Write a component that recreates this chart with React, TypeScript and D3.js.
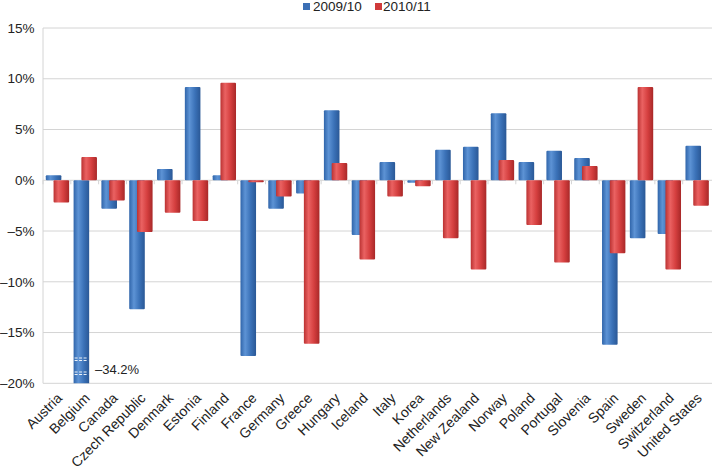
import { useEffect, useRef } from "react";
import * as d3 from "d3";

const COUNTRIES = [
  "Austria", "Belgium", "Canada", "Czech Republic", "Denmark", "Estonia", "Finland", "France",
  "Germany", "Greece", "Hungary", "Iceland", "Italy", "Korea", "Netherlands", "New Zealand",
  "Norway", "Poland", "Portugal", "Slovenia", "Spain", "Sweden", "Switzerland", "United States",
];
const Y2009 = [0.5, -34.2, -2.8, -12.7, 1.1, 9.2, 0.5, -17.3, -2.8, -1.3, 6.9, -5.4, 1.8, -0.25, 3.0, 3.3, 6.6, 1.8, 2.9, 2.2, -16.2, -5.7, -5.3, 3.4];
const Y2010 = [-2.2, 2.3, -2.0, -5.1, -3.2, -4.0, 9.6, -0.2, -1.6, -16.1, 1.7, -7.8, -1.6, -0.6, -5.7, -8.8, 2.0, -4.4, -8.1, 1.4, -7.2, 9.2, -8.8, -2.5];
const SERIES = [
  { name: "2009/10", values: Y2009, id: "gBlue", stops: ["#3065aa", "#5d93d5", "#3b72b8", "#2a5896"], key: "#3b6fb5" },
  { name: "2010/11", values: Y2010, id: "gRed", stops: ["#bb3232", "#ea6262", "#d53f3f", "#a82828"], key: "#d03a3a" },
];
const Y_TICKS = [-20, -15, -10, -5, 0, 5, 10, 15];

export default function App() {
  const svgRef = useRef<SVGSVGElement>(null);

  useEffect(() => {
    if (!svgRef.current) return;
    const W = 712, H = 469;
    const svg = d3.select(svgRef.current).attr("width", W).attr("height", H);
    svg.selectAll("*").remove();
    const font = "'Liberation Sans', Arial, sans-serif";

    const x = d3.scaleBand<string>().domain(COUNTRIES).range([43, 710.5]).padding(0);
    const y = d3.scaleLinear().domain([-20, 15]).range([383.3, 28]);
    const bw = x.bandwidth();

    const defs = svg.append("defs");
    SERIES.forEach(s => {
      const g = defs.append("linearGradient").attr("id", s.id).attr("x1", 0).attr("x2", 1).attr("y1", 0).attr("y2", 0);
      [0, 0.3, 0.65, 1].forEach((o, i) => g.append("stop").attr("offset", o).attr("stop-color", s.stops[i]));
    });
    defs.append("clipPath").attr("id", "plotClip").append("rect")
      .attr("x", 43).attr("y", y(15)).attr("width", 670).attr("height", y(-20) - y(15));

    // gridlines
    Y_TICKS.forEach(v => {
      svg.append("line").attr("x1", 43).attr("x2", W).attr("y1", y(v)).attr("y2", y(v))
        .attr("stroke", "#d4d4d4").attr("stroke-width", 1);
    });
    svg.append("line").attr("x1", 43).attr("x2", 43).attr("y1", y(15)).attr("y2", y(-20)).attr("stroke", "#d4d4d4");

    // x ticks along zero line
    COUNTRIES.forEach(c => {
      const x0 = x(c)!;
      svg.append("line").attr("x1", x0).attr("x2", x0).attr("y1", y(0)).attr("y2", y(0) + 4).attr("stroke", "#d4d4d4");
    });

    // y labels
    Y_TICKS.forEach(v => {
      svg.append("text").attr("x", 34.5).attr("y", y(v)).attr("dy", "0.35em").attr("text-anchor", "end")
        .attr("font-family", font).attr("font-size", 13.5).attr("fill", "#222")
        .text(`${v < 0 ? "\u2013" + Math.abs(v) : v}%`);
    });

    // bars
    const bars = svg.append("g").attr("clip-path", "url(#plotClip)");
    const offs = [0.1, 0.38];
    SERIES.forEach((s, si) => {
      s.values.forEach((v, i) => {
        const x0 = x(COUNTRIES[i])! + offs[si] * bw;
        const top = y(Math.max(0, v)), bot = y(Math.min(0, v));
        bars.append("rect").attr("x", x0).attr("y", top).attr("width", 0.56 * bw).attr("height", Math.max(1, bot - top))
          .attr("fill", `url(#${s.id})`).attr("rx", 1);
      });
    });

    // break marks on Belgium
    const bx = x("Belgium")! + offs[0] * bw;
    [358, 360.5, 372, 374.5].forEach(yy => {
      svg.append("line").attr("x1", bx + 1).attr("x2", bx + 0.56 * bw - 1).attr("y1", yy).attr("y2", yy)
        .attr("stroke", "white").attr("stroke-width", 0.9).attr("stroke-dasharray", "3,1.5");
    });
    svg.append("text").attr("x", 95).attr("y", 374).attr("font-family", font).attr("font-size", 13)
      .attr("fill", "#222").text("\u201334.2%");

    // x labels
    COUNTRIES.forEach(c => {
      const cx = x(c)! + bw / 2 + 6;
      svg.append("text").attr("transform", `translate(${cx},${399}) rotate(-45)`)
        .attr("text-anchor", "end")
        .attr("font-family", font).attr("font-size", 14).attr("fill", "#222").text(c);
    });

    // legend
    const leg = [{ x: 303, tx: 313 }, { x: 375, tx: 383 }];
    SERIES.forEach((s, i) => {
      svg.append("rect").attr("x", leg[i].x).attr("y", 3).attr("width", 7).attr("height", 7).attr("fill", s.key);
      svg.append("text").attr("x", leg[i].tx).attr("y", 10.5).attr("font-family", font).attr("font-size", 13.5)
        .attr("fill", "#222").text(s.name);
    });
  }, []);

  return (
    <div style={{ position: "absolute", left: 0, top: 0, background: "white" }}>
      <svg ref={svgRef} style={{ display: "block" }} />
    </div>
  );
}
